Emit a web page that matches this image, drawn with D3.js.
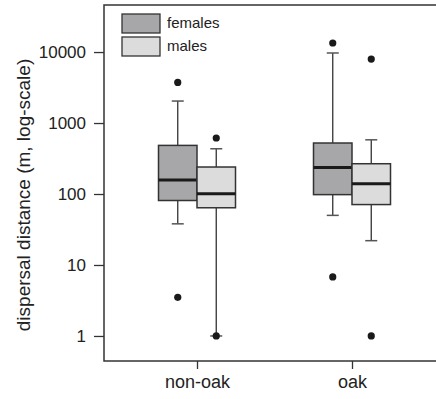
<!DOCTYPE html>
<meta charset="utf-8">
<style>
body { margin: 0; background: #fff; }
text { font-family: "Liberation Sans", Arial, sans-serif; fill: #222; }
</style>
<svg id="mysvg" width="436" height="399"></svg>
<script src="https://cdn.jsdelivr.net/npm/d3@7"></script>
<script>

var svg = d3.select("#mysvg");

// data
var sites = ["non-oak", "oak"];
var sexes = ["females", "males"];
var sexColors = ["#a7a7a9", "#dcdcdd"];
// [whiskerLow, q1, median, q3, whiskerHigh]
var femaleStats = [[38, 81, 157, 484, 2040], [50, 98, 237, 523, 9700]];
var maleStats = [[1, 64, 101, 240, 434], [22, 71, 140, 267, 580]];
var femaleOutliers = [[3.5, 3730], [6.8, 13400]];
var maleOutliers = [[1, 615], [1, 7950]];
var yTicks = [1, 10, 100, 1000, 10000];

var plotLeft = 104, plotTop = 5, plotBottom = 361, plotRight = 440;

var y = d3.scaleLog()
	.domain([0.444, 46000])
	.range([plotBottom, plotTop]);

var x = d3.scalePoint()
	.domain(sites)
	.range([197, 352]);

var boxW = 38.5;

// frame
svg.append("rect")
	.attr("x", plotLeft).attr("y", plotTop)
	.attr("width", plotRight - plotLeft).attr("height", plotBottom - plotTop)
	.attr("fill", "none").attr("stroke", "#333").attr("stroke-width", 1.5);

// y axis
var yAxis = svg.append("g")
	.attr("transform", "translate(" + plotLeft + ",0)")
	.call(d3.axisLeft(y).tickValues(yTicks).tickFormat(d3.format("d")).tickSize(10).tickPadding(8));
yAxis.select(".domain").remove();
yAxis.selectAll("line").attr("stroke", "#333").attr("stroke-width", 1.3);
yAxis.selectAll("text").style("font-size", "17px").attr("fill", "#222");

// x axis
var xAxis = svg.append("g")
	.attr("transform", "translate(0," + plotBottom + ")")
	.call(d3.axisBottom(x).tickSize(8).tickPadding(6));
xAxis.select(".domain").remove();
xAxis.selectAll("line").attr("stroke", "#333").attr("stroke-width", 1.3);
xAxis.selectAll("text").style("font-size", "18px").attr("fill", "#222");

// y label
svg.append("text")
	.attr("transform", "translate(30,195) rotate(-90)")
	.attr("text-anchor", "middle")
	.style("font-size", "19px")
	.text("dispersal distance (m, log-scale)");

function drawBoxes(stats, outliers, offset, color) {
	stats.forEach(function(s, i) {
		var cx = x(sites[i]) + offset;
		var g = svg.append("g");
		// whiskers
		g.append("line").attr("x1", cx).attr("x2", cx)
			.attr("y1", y(s[3])).attr("y2", y(s[4]))
			.attr("stroke", "#333").attr("stroke-width", 1.3);
		g.append("line").attr("x1", cx).attr("x2", cx)
			.attr("y1", y(s[1])).attr("y2", y(s[0]))
			.attr("stroke", "#333").attr("stroke-width", 1.3);
		[s[0], s[4]].forEach(function(v) {
			g.append("line").attr("x1", cx - 6).attr("x2", cx + 6)
				.attr("y1", y(v)).attr("y2", y(v))
				.attr("stroke", "#555").attr("stroke-width", 1.5);
		});
		g.append("rect")
			.attr("x", cx - boxW / 2).attr("width", boxW)
			.attr("y", y(s[3])).attr("height", y(s[1]) - y(s[3]))
			.attr("fill", color).attr("stroke", "#333").attr("stroke-width", 1.5);
		g.append("line")
			.attr("x1", cx - boxW / 2).attr("x2", cx + boxW / 2)
			.attr("y1", y(s[2])).attr("y2", y(s[2]))
			.attr("stroke", "#1a1a1a").attr("stroke-width", 3);
		outliers[i].forEach(function(v) {
			g.append("circle").attr("cx", cx).attr("cy", y(v)).attr("r", 3.6).attr("fill", "#1a1a1a");
		});
	});
}

drawBoxes(femaleStats, femaleOutliers, -boxW / 2, sexColors[0]);
drawBoxes(maleStats, maleOutliers, boxW / 2, sexColors[1]);

// legend
var legend = svg.selectAll(".leg")
	.data(sexes)
	.enter().append("g")
	.attr("transform", function(d, i) { return "translate(122," + (14 + i * 23) + ")"; });
legend.append("rect")
	.attr("width", 38).attr("height", 19)
	.attr("fill", function(d, i) { return sexColors[i]; })
	.attr("stroke", "#333").attr("stroke-width", 1.3);
legend.append("text")
	.attr("x", 45).attr("y", 14)
	.style("font-size", "15px")
	.text(function(d) { return d; });

</script>
